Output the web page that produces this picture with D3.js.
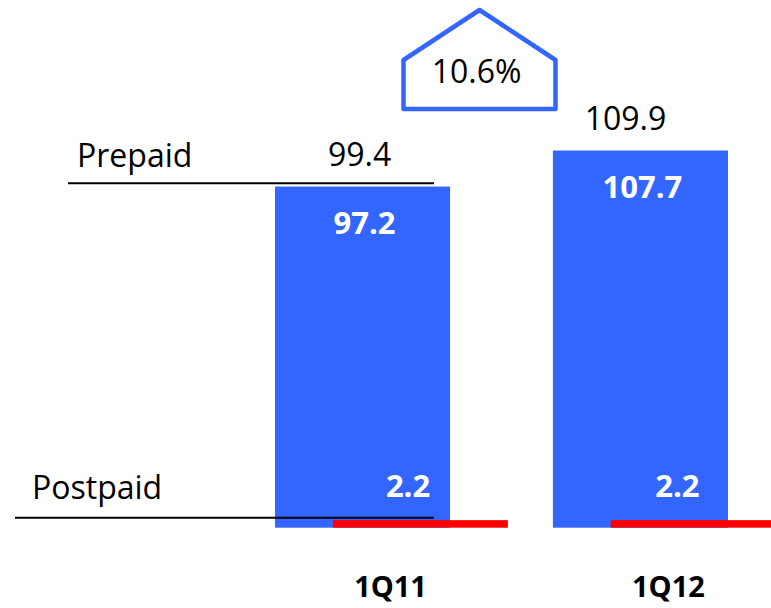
<!DOCTYPE html>
<html><head><meta charset="utf-8">
<script src="https://cdn.jsdelivr.net/npm/d3@7"></script>
<style>body{margin:0;background:#fff}svg{display:block}text{font-family:"Open Sans",sans-serif}</style>
</head><body>
<script>
const categories = ["1Q11", "1Q12"];
const prepaid = [97.2, 107.7];
const postpaid = [2.2, 2.2];
const totals = [99.4, 109.9];
const growthLabel = "10.6%";
const seriesNames = ["Prepaid", "Postpaid"];

const W = 771, H = 608;
const svg = d3.select("body").append("svg").attr("width", W).attr("height", H);

const x = d3.scaleBand().domain(categories).range([275, 728]).paddingInner(0.37).paddingOuter(0);
const y = d3.scaleLinear().domain([0, 110]).range([527.7, 527.7 - 110 * 3.432]);
const bw = x.bandwidth();
const blue = "#3366FF", red = "#FF0000";
const redOffset = 57.8;

// blue bars (full stack height)
svg.selectAll("rect.pre").data(categories).join("rect")
  .attr("x", d => x(d)).attr("width", bw)
  .attr("y", (d, i) => y(totals[i])).attr("height", (d, i) => y(0) - y(totals[i]))
  .attr("fill", blue);

// red postpaid bars
svg.selectAll("rect.post").data(categories).join("rect")
  .attr("x", d => x(d) + redOffset).attr("width", bw)
  .attr("y", (d, i) => y(postpaid[i])).attr("height", (d, i) => y(0) - y(postpaid[i]))
  .attr("fill", red);

// leader lines
svg.append("line").attr("x1", 68).attr("x2", 434)
  .attr("y1", y(totals[0]) - 3.4).attr("y2", y(totals[0]) - 3.4)
  .attr("stroke", "#000").attr("stroke-width", 2);
svg.append("line").attr("x1", 15).attr("x2", 434)
  .attr("y1", y(postpaid[0]) - 2.3).attr("y2", y(postpaid[0]) - 2.3)
  .attr("stroke", "#000").attr("stroke-width", 2);

// series labels
svg.append("text").attr("x", 77).attr("y", 167).attr("font-size", 32).attr("fill", "#000").text(seriesNames[0]);
svg.append("text").attr("x", 32).attr("y", 499).attr("font-size", 32).attr("fill", "#000").text(seriesNames[1]);

// totals
const totalOffsets = [-3, -15];
svg.selectAll("text.tot").data(categories).join("text")
  .attr("x", (d, i) => x(d) + bw / 2 + totalOffsets[i])
  .attr("y", (d, i) => y(totals[i]) - 20.5)
  .attr("text-anchor", "middle").attr("font-size", 32).attr("fill", "#000")
  .text((d, i) => totals[i].toFixed(1));

// prepaid values
svg.selectAll("text.pv").data(categories).join("text")
  .attr("x", (d, i) => x(d) + bw / 2 + 2)
  .attr("y", (d, i) => y(totals[i]) + 47)
  .attr("text-anchor", "middle").attr("font-size", 31).attr("font-weight", "bold").attr("fill", "#fff")
  .text((d, i) => prepaid[i].toFixed(1));

// postpaid values
const postOffsets = [45.5, 37];
svg.selectAll("text.qv").data(categories).join("text")
  .attr("x", (d, i) => x(d) + bw / 2 + postOffsets[i])
  .attr("y", y(0) - 30.4)
  .attr("text-anchor", "middle").attr("font-size", 31).attr("font-weight", "bold").attr("fill", "#fff")
  .text((d, i) => postpaid[i].toFixed(1));

// category labels
svg.selectAll("text.cat").data(categories).join("text")
  .attr("x", d => x(d) + bw / 2 + 28)
  .attr("y", 597)
  .attr("text-anchor", "middle").attr("font-size", 29).attr("font-weight", "bold").attr("fill", "#000")
  .text(d => d);

// growth pentagon
const cx = 479.5, left = cx - 76, right = cx + 76;
const pent = [[cx, 10], [right, 60], [right, 109], [left, 109], [left, 60]];
svg.append("path").attr("d", d3.line()(pent) + "Z")
  .attr("fill", "#fff").attr("stroke", blue).attr("stroke-width", 4.5).attr("stroke-linejoin", "round");
svg.append("text").attr("x", cx - 3).attr("y", 83).attr("text-anchor", "middle")
  .attr("font-size", 32).attr("fill", "#000").text(growthLabel);
</script>
</body></html>
